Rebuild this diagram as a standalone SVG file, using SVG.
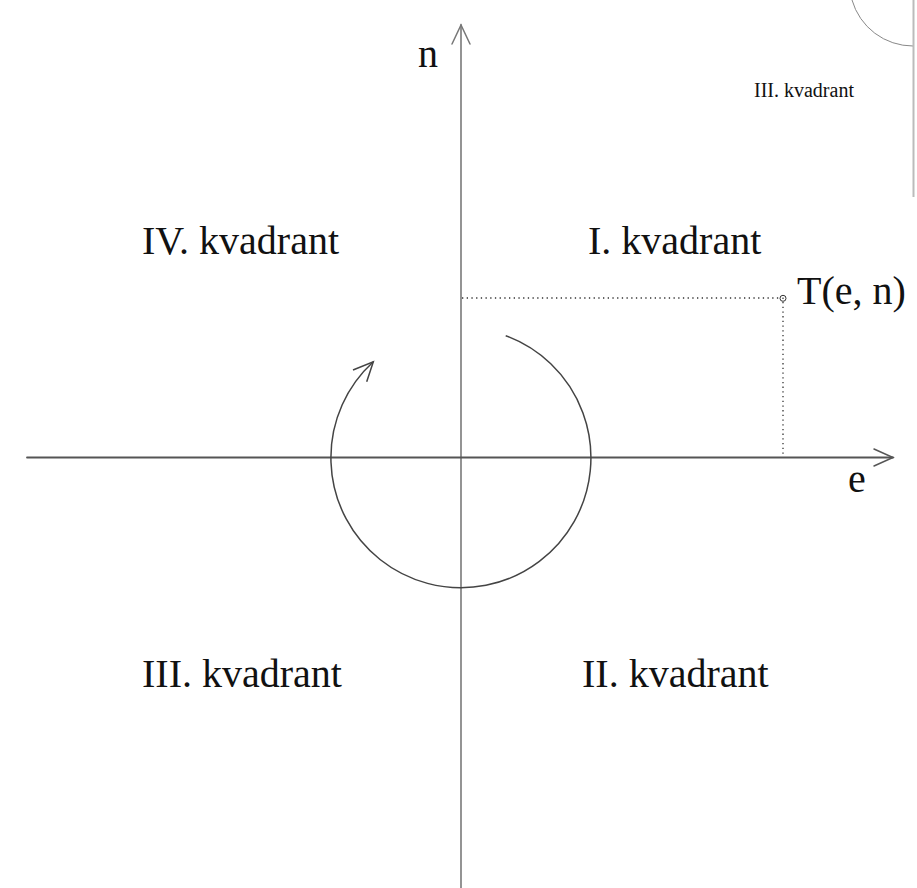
<svg xmlns="http://www.w3.org/2000/svg" width="917" height="888" viewBox="0 0 917 888">
<style>
text{font-family:"Liberation Serif","Times New Roman",serif;fill:#111;}
.lbl{font-size:40px;}
.small{font-size:20px;}
.axis{fill:none;stroke-linecap:round;}
.dot{fill:none;stroke:#333;stroke-width:1.3;stroke-dasharray:1.3 3.4;}
</style>
<rect width="917" height="888" fill="#fff"/>
<g id="corner">
<path d="M852,0 A63.4,63.4 0 0 0 913,46" fill="none" stroke="#888" stroke-width="1"/>
<line x1="913.5" y1="0" x2="913.5" y2="197" stroke="#bbb" stroke-width="2"/>
<text class="small" x="754" y="97">III. kvadrant</text>
</g>
<g id="connectors">
<line class="axis" x1="461" y1="888" x2="461" y2="25" stroke="#888" stroke-width="1.8"/>
<polyline class="axis" points="452,44 461,25 470,44" stroke="#777" stroke-width="1.5"/>
<line class="axis" x1="27" y1="457.5" x2="893" y2="457.5" stroke="#555" stroke-width="1.8"/>
<polyline class="axis" points="874,449 893,457.5 874,466" stroke="#555" stroke-width="1.5"/>
<line class="dot" x1="462" y1="298" x2="779" y2="298"/>
<line class="dot" x1="783" y1="302" x2="783" y2="456"/>
<path d="M505.7,335.7 A130,130 0 1 1 373.3,361.7" fill="none" stroke="#444" stroke-width="1.5"/>
<polyline points="353,370 373.3,361.7 366.7,381.7" fill="none" stroke="#444" stroke-width="1.5"/>
</g>
<g id="point-T">
<circle cx="783" cy="298.3" r="3" fill="#fff" stroke="#333" stroke-width="1"/>
<circle cx="783" cy="298.3" r="0.8" fill="#333"/>
<text class="lbl" x="797" y="304">T(e, n)</text>
</g>
<g id="axis-n"><text class="lbl" x="418" y="67">n</text></g>
<g id="axis-e"><text class="lbl" x="848" y="492">e</text></g>
<g id="q1"><text class="lbl" x="588" y="254">I. kvadrant</text></g>
<g id="q2"><text class="lbl" x="582" y="687">II. kvadrant</text></g>
<g id="q3"><text class="lbl" x="142" y="687">III. kvadrant</text></g>
<g id="q4"><text class="lbl" x="142" y="254">IV. kvadrant</text></g>
</svg>
